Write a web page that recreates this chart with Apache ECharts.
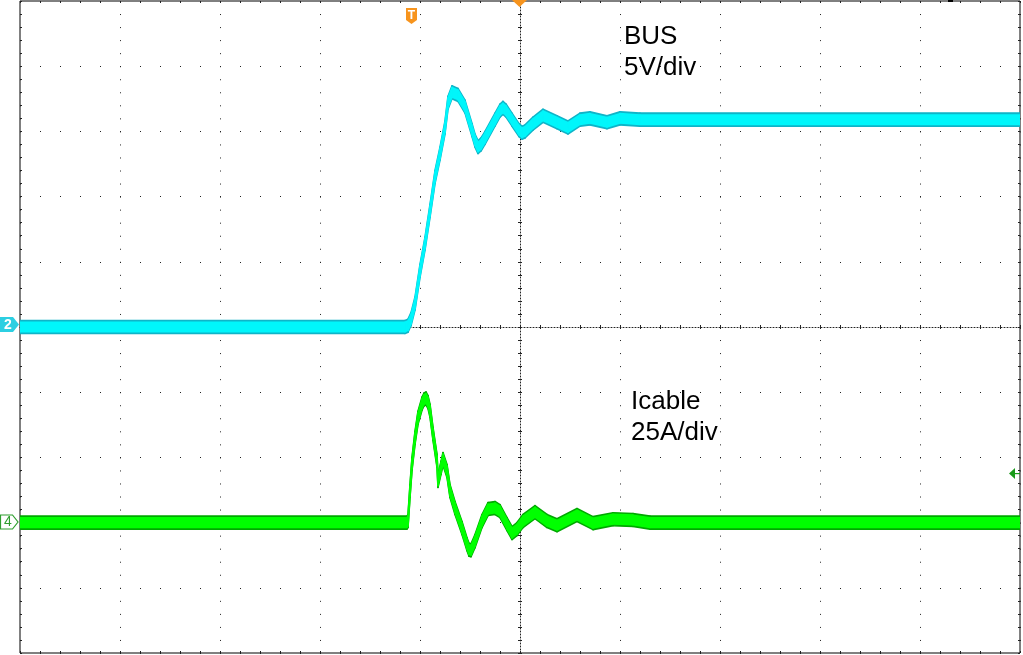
<!DOCTYPE html>
<html>
<head>
<meta charset="utf-8">
<style>
  html, body { margin: 0; padding: 0; background: #fff; }
  #chart { width: 1023px; height: 655px; }
</style>
<script src="https://cdn.jsdelivr.net/npm/echarts@6/dist/echarts.min.js"></script>
</head>
<body>
<div id="chart"></div>
<script>
// time in divisions from the trigger point (screen centre = 0)
const BUS_T = [-5, -1.15, -1.12, -1.09, -1.05, -1.0, -0.95, -0.9, -0.85, -0.8, -0.75, -0.72, -0.68, -0.62, -0.55, -0.48, -0.45, -0.42, -0.39, -0.35, -0.25, -0.2, -0.17, -0.14, -0.08, -0.01, 0.02, 0.05, 0.13, 0.23, 0.37, 0.48, 0.6, 0.7, 0.87, 1.0, 1.2, 5]
// volts, 5 V/div, channel 2 ground at screen centre
const BUS_V = [0, 0, 0.1, 0.6, 1.8, 4.3, 6.4, 8.9, 11.5, 13.3, 15.3, 17.2, 18.0, 17.8, 16.9, 15.1, 14.3, 13.8, 14.0, 14.5, 15.9, 16.6, 16.8, 16.6, 15.9, 15.1, 14.9, 15.0, 15.6, 16.2, 15.7, 15.3, 15.9, 16.0, 15.7, 16.0, 15.9, 15.9]

const ICABLE_T = [-5, -1.13, -1.12, -1.1, -1.08, -1.05, -1.02, -0.98, -0.96, -0.94, -0.92, -0.9, -0.87, -0.83, -0.82, -0.79, -0.77, -0.73, -0.7, -0.65, -0.58, -0.53, -0.51, -0.49, -0.45, -0.38, -0.32, -0.25, -0.2, -0.13, -0.08, -0.03, 0.03, 0.15, 0.27, 0.37, 0.57, 0.73, 0.93, 1.13, 1.3, 5]
// amps, 25 A/div, channel 4 zero three divisions below centre
const ICABLE_A = [0, 0, 0.6, 12.1, 22.5, 32.5, 40.2, 45.6, 47.2, 47.6, 46.2, 42.9, 34.0, 23.7, 16.0, 21.0, 24.4, 19.8, 12.1, 5.6, -2.1, -8.3, -10.4, -10.6, -7.1, 0.6, 5.2, 5.6, 4.4, -0.6, -4.0, -2.5, 0.6, 4.0, 0.6, -1.0, 2.9, -0.2, 1.3, 1.0, 0, 0]

const BUS_LABEL = ['BUS', '5V/div']
const ICABLE_LABEL = ['Icable', '25A/div']

const CYAN_EDGE = '#0FB4C8'
const CYAN = '#00F6FB'
const GREEN_EDGE = '#00A800'
const GREEN = '#00FF00'
const ORANGE = '#F7941D'
const GRID_DOT = '#222'

// trace noise band, full height
const BUS_NOISE = [1.0, 0.72]   // V
const ICABLE_NOISE = [5.0, 3.7] // A

// persistence band of a trace: one quad per segment, placed through the axes
function bandSeries(key, t, v, height, yAxisIndex, color, z) {
  const half = height / 2
  const segs = t.slice(0, -1).map((x, i) => [x, v[i], t[i + 1], v[i + 1]])
  return {
    type: 'custom',
    name: key,
    xAxisIndex: 0,
    yAxisIndex,
    silent: true,
    clip: true,
    z,
    data: segs,
    encode: { x: [0, 2], y: [1, 3] },
    renderItem: (params, api) => {
      const x0 = api.value(0)
      const y0 = api.value(1)
      const x1 = api.value(2)
      const y1 = api.value(3)
      const points = [
        api.coord([x0, y0 + half]),
        api.coord([x1, y1 + half]),
        api.coord([x1, y1 - half]),
        api.coord([x0, y0 - half]),
      ]
      return {
        type: 'polygon',
        shape: { points },
        style: { fill: color, stroke: color, lineWidth: 1.6, lineJoin: 'round' },
      }
    },
  }
}

const tickStyle = { color: GRID_DOT, width: 1 }

function edgeAxis(extra, len, inside) {
  return {
    type: 'value',
    axisLine: { show: false, onZero: false },
    axisTick: { show: true, inside, length: len, lineStyle: tickStyle },
    minorTick: { show: true, splitNumber: 5, length: len, lineStyle: tickStyle },
    axisLabel: { show: false },
    splitLine: { show: false },
    ...extra,
  }
}

const X_SCALE = { min: -5, max: 5, interval: 1 }
const BUS_SCALE = { min: -25, max: 25, interval: 5 }
const ICABLE_SCALE = { min: -50, max: 200, interval: 25 }

const centreLine = { show: true, onZero: true, onZeroAxisIndex: 0, lineStyle: { color: GRID_DOT, width: 1, type: [1, 2] } }

const chart = echarts.init(document.getElementById('chart'))
chart.setOption({
  animation: false,
  backgroundColor: '#fff',
  grid: {
    left: 20,
    top: 1,
    width: 1000,
    height: 652,
    show: true,
    borderColor: '#000',
    borderWidth: 1,
    backgroundColor: '#fff',
  },
  xAxis: [
    edgeAxis({ ...X_SCALE, position: 'bottom', splitLine: { show: true, lineStyle: { color: GRID_DOT, width: 1, type: [1, 12.04] } } }, 2, true),
    edgeAxis({ ...X_SCALE, position: 'top' }, 2, true),
    edgeAxis({ ...X_SCALE, position: 'bottom', axisLine: centreLine }, 2, true),
    edgeAxis({ ...X_SCALE, position: 'bottom', axisLine: { ...centreLine, lineStyle: { opacity: 0 } } }, 2, false),
  ],
  yAxis: [
    edgeAxis({ ...BUS_SCALE, position: 'left', splitLine: { show: true, lineStyle: { color: GRID_DOT, width: 1, type: [1, 19] } } }, 2, true),
    { type: 'value', ...ICABLE_SCALE, show: false },
    edgeAxis({ ...BUS_SCALE, position: 'right' }, 2, true),
    edgeAxis({ ...BUS_SCALE, position: 'left', axisLine: centreLine }, 2, true),
    edgeAxis({ ...BUS_SCALE, position: 'left', axisLine: { ...centreLine, lineStyle: { opacity: 0 } } }, 2, false),
  ],
  series: [
    bandSeries('bus-outer', BUS_T, BUS_V, BUS_NOISE[0], 0, CYAN_EDGE, 2),
    bandSeries('bus-inner', BUS_T, BUS_V, BUS_NOISE[1], 0, CYAN, 3),
    bandSeries('icable-outer', ICABLE_T, ICABLE_A, ICABLE_NOISE[0], 1, GREEN_EDGE, 2),
    bandSeries('icable-inner', ICABLE_T, ICABLE_A, ICABLE_NOISE[1], 1, GREEN, 3),
  ],
  graphic: [
    // channel 2 ground marker
    { type: 'polygon', shape: { points: [[0, 317], [13, 317], [19, 324.5], [13, 332], [0, 332]] }, style: { fill: '#2CCFE2' }, z: 10 },
    { type: 'text', x: 8, y: 325, style: { text: '2', fill: '#fff', font: 'bold 14px "Liberation Sans"', align: 'center', verticalAlign: 'middle' }, z: 11 },
    // channel 4 ground marker
    { type: 'polygon', shape: { points: [[0.5, 515], [12.5, 515], [18, 522], [12.5, 529], [0.5, 529]] }, style: { fill: '#fff', stroke: '#2E9E2E', lineWidth: 1.2 }, z: 10 },
    { type: 'text', x: 8, y: 522.5, style: { text: '4', fill: '#2E9E2E', font: '14px "Liberation Sans"', align: 'center', verticalAlign: 'middle' }, z: 11 },
    // trigger position and level markers
    { type: 'polygon', shape: { points: [[406, 8], [417, 8], [417, 20], [411.5, 24], [406, 20]] }, style: { fill: ORANGE }, z: 10 },
    { type: 'text', x: 411.5, y: 15.5, style: { text: 'T', fill: '#fff', font: 'bold 12px "Liberation Sans"', align: 'center', verticalAlign: 'middle' }, z: 11 },
    { type: 'polygon', shape: { points: [[512, 0], [527, 0], [519.5, 7]] }, style: { fill: ORANGE }, z: 10 },
    { type: 'polygon', shape: { points: [[1009, 473.5], [1015, 468], [1015, 479]] }, style: { fill: '#1A9A1A' }, z: 10 },
    { type: 'rect', shape: { x: 1015, y: 473, width: 5, height: 1.2 }, style: { fill: '#1A9A1A' }, z: 10 },
    { type: 'rect', shape: { x: 948, y: 0, width: 5, height: 2 }, style: { fill: '#000' }, z: 10 },
    // channel annotations
    { type: 'text', x: 624, y: 21, style: { text: BUS_LABEL.join('\n'), fill: '#000', font: '26px "Liberation Sans", Arial', lineHeight: 31, verticalAlign: 'top' }, z: 12 },
    { type: 'text', x: 631, y: 386, style: { text: ICABLE_LABEL.join('\n'), fill: '#000', font: '26px "Liberation Sans", Arial', lineHeight: 31, verticalAlign: 'top' }, z: 12 },
  ],
})
</script>
</body>
</html>
